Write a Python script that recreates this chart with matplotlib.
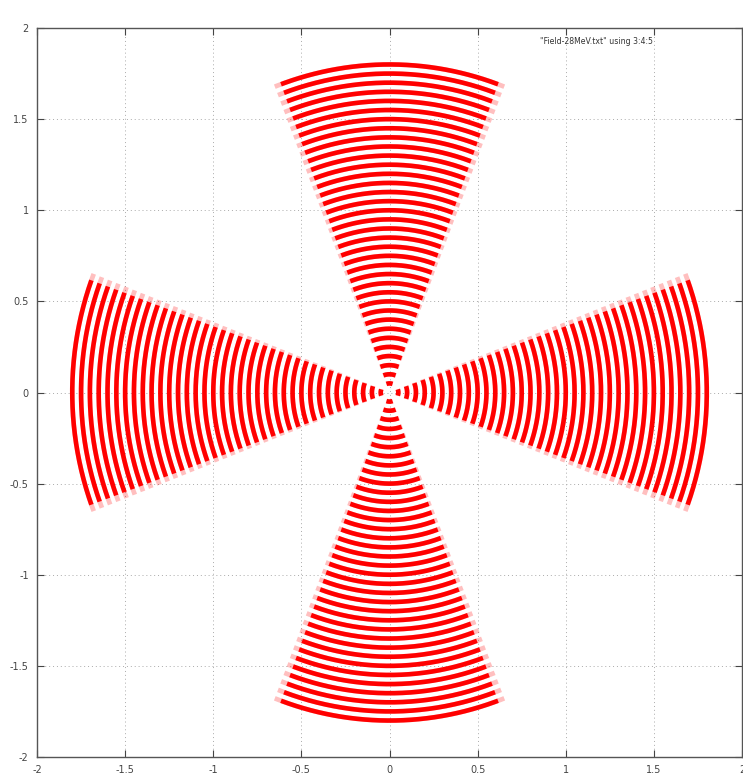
import numpy as np
import matplotlib
matplotlib.use("Agg")
import matplotlib.pyplot as plt

# ring radii of the field map and the four sector directions (degrees)
radii = [0.05, 0.10, 0.15, 0.20, 0.25, 0.30, 0.35, 0.40, 0.45, 0.50,
         0.55, 0.60, 0.65, 0.70, 0.75, 0.80, 0.85, 0.90, 0.95, 1.00,
         1.05, 1.10, 1.15, 1.20, 1.25, 1.30, 1.35, 1.40, 1.45, 1.50,
         1.55, 1.60, 1.65, 1.70, 1.75, 1.80]
sector_centers = [0, 90, 180, 270]
half_width = 20.0

ticks = [-2, -1.5, -1, -0.5, 0, 0.5, 1, 1.5, 2]
tick_labels = ["-2", "-1.5", "-1", "-0.5", "0", "0.5", "1", "1.5", "2"]
legend_text = '"Field-28MeV.txt" using 3:4:5'

fig = plt.figure(figsize=(7.43, 7.76), dpi=100)
ax = fig.add_axes([0.0498, 0.0245, 0.9489, 0.9394])

for c in sector_centers:
    th = np.radians(np.linspace(c - half_width, c + half_width, 200))
    # soft ends where the plotted points thin out
    th_soft = np.radians(np.linspace(c - half_width - 1.2, c + half_width + 1.2, 200))
    for r in radii:
        ax.plot(r * np.cos(th_soft), r * np.sin(th_soft), color="#ff0000",
                lw=3.4, solid_capstyle="butt", alpha=0.25)
        ax.plot(r * np.cos(th), r * np.sin(th), color="#ff0000",
                lw=3.3, solid_capstyle="butt")

ax.set_xlim(-2, 2)
ax.set_ylim(-2, 2)
ax.set_xticks(ticks)
ax.set_yticks(ticks)
ax.set_xticklabels(tick_labels)
ax.set_yticklabels(tick_labels)
ax.tick_params(direction="in", length=5, width=0.8, top=True, right=True,
               labelsize=7, colors="#444444", pad=6)
ax.grid(True, ls=(0, (1, 3)), color="#aaaaaa", lw=0.7)
ax.set_axisbelow(True)
for s in ax.spines.values():
    s.set_color("#555555")
    s.set_linewidth(1.0)

ax.text(0.873, 0.987, legend_text, transform=ax.transAxes, ha="right",
        va="top", fontsize=5.6, color="#333333")

fig.savefig("out.png", dpi=100)
